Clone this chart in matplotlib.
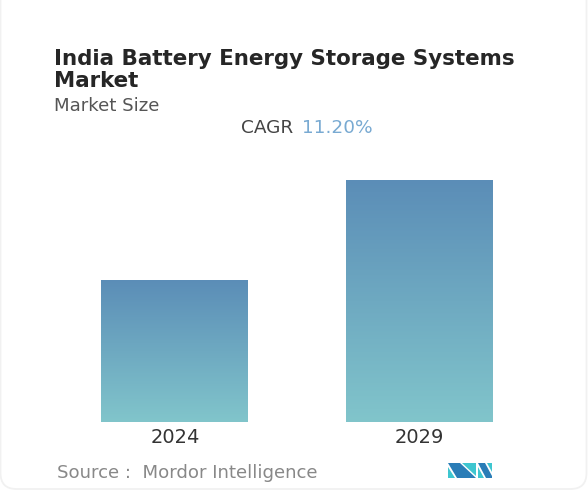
import numpy as np
import matplotlib
matplotlib.use("Agg")
import matplotlib.pyplot as plt
from matplotlib.patches import Polygon, FancyBboxPatch
from matplotlib.colors import LinearSegmentedColormap

# ---- data ----
years = ["2024", "2029"]
market_size = [1.0, 1.70]   # relative market size (no value axis shown)
cagr_label = "11.20%"
title_lines = ["India Battery Energy Storage Systems", "Market"]
subtitle = "Market Size"
source = "Source :  Mordor Intelligence"

W, H = 588, 497
fig = plt.figure(figsize=(W / 100, H / 100), dpi=100)
fig.patch.set_facecolor("white")
renderer = fig.canvas.get_renderer()

FONT = "DejaVu Sans"


def fit(t, target_w):
    bb = t.get_window_extent(renderer)
    t.set_fontsize(t.get_fontsize() * target_w / bb.width)
    return t.get_fontsize()


# overlay axes in pixel coordinates for text/decor
bg = fig.add_axes([0, 0, 1, 1])
bg.set_xlim(0, W)
bg.set_ylim(H, 0)
bg.axis("off")

# faint card border
card = FancyBboxPatch((0.5, -40), W - 2, 529, boxstyle="round,pad=0,rounding_size=16",
                      fc="none", ec="#f1f1f1", lw=1.3)
bg.add_patch(card)

t1 = bg.text(54, 65, title_lines[0], fontsize=13, fontfamily=FONT,
             fontweight="bold", color="#262626", va="baseline", ha="left")
fs_title = fit(t1, 459)
bg.text(54, 87, title_lines[1], fontsize=fs_title, fontfamily=FONT,
        fontweight="bold", color="#262626", va="baseline", ha="left")
t = bg.text(54, 111, subtitle, fontsize=11, fontfamily=FONT, color="#555555",
            va="baseline", ha="left")
fit(t, 106)
bg.text(293, 133, "CAGR", fontsize=13.3, fontfamily=FONT, color="#444444",
        va="baseline", ha="right")
bg.text(302, 133, cagr_label, fontsize=13.3, fontfamily=FONT, color="#79aad2",
        va="baseline", ha="left")
t = bg.text(57, 478, source, fontsize=11, fontfamily=FONT, color="#888888",
            va="baseline", ha="left")
fit(t, 262)

# logo
blue = "#2a7db7"
teal = "#3ec6d0"
logo = [
    ([(448, 467), (448, 478), (455, 478)], teal),
    ([(448, 463), (460, 463), (476, 478), (457, 478)], blue),
    ([(462, 463), (476, 463), (476, 476)], teal),
    ([(478, 467), (478, 478), (484, 478)], teal),
    ([(478, 463), (485, 463), (492, 476), (492, 478), (486, 478)], blue),
    ([(487, 463), (492, 463), (492, 472)], teal),
]
for pts, c in logo:
    bg.add_patch(Polygon(pts, closed=True, fc=c, ec="none"))

# ---- bar chart ----
bottom_px, top_px = 422, 180
ax = fig.add_axes([0, (H - bottom_px) / H, 1, (bottom_px - top_px) / H])
spacing = 244.5
c0 = 175
xlim = (-c0 / spacing, (W - c0) / spacing)
ylim = (0, max(market_size))
ax.axis("off")

x = np.arange(len(years))
bw = 147 / spacing
bars = ax.bar(x, market_size, width=bw, color="none", edgecolor="none")

cmap = LinearSegmentedColormap.from_list("g", ["#81c5cb", "#5b8db7"])
grad = np.linspace(0, 1, 256).reshape(-1, 1)
for b in bars:
    x0, y0 = b.get_x(), b.get_y()
    w, h = b.get_width(), b.get_height()
    im = ax.imshow(grad, cmap=cmap, origin="lower", aspect="auto",
                   extent=[x0, x0 + w, y0, y0 + h], zorder=2)
    im.set_clip_path(b)

ax.set_xlim(*xlim)
ax.set_ylim(*ylim)

fs_year = None
for xi, lab in zip(x, years):
    a = ax.annotate(lab, (xi, 0), xytext=(0, -21), textcoords="offset pixels",
                    ha="center", va="baseline", fontsize=12, fontfamily=FONT,
                    color="#333333", annotation_clip=False)
    if fs_year is None:
        fs_year = fit(a, 49)
    else:
        a.set_fontsize(fs_year)

fig.savefig("out.png", dpi=100, facecolor="white")
